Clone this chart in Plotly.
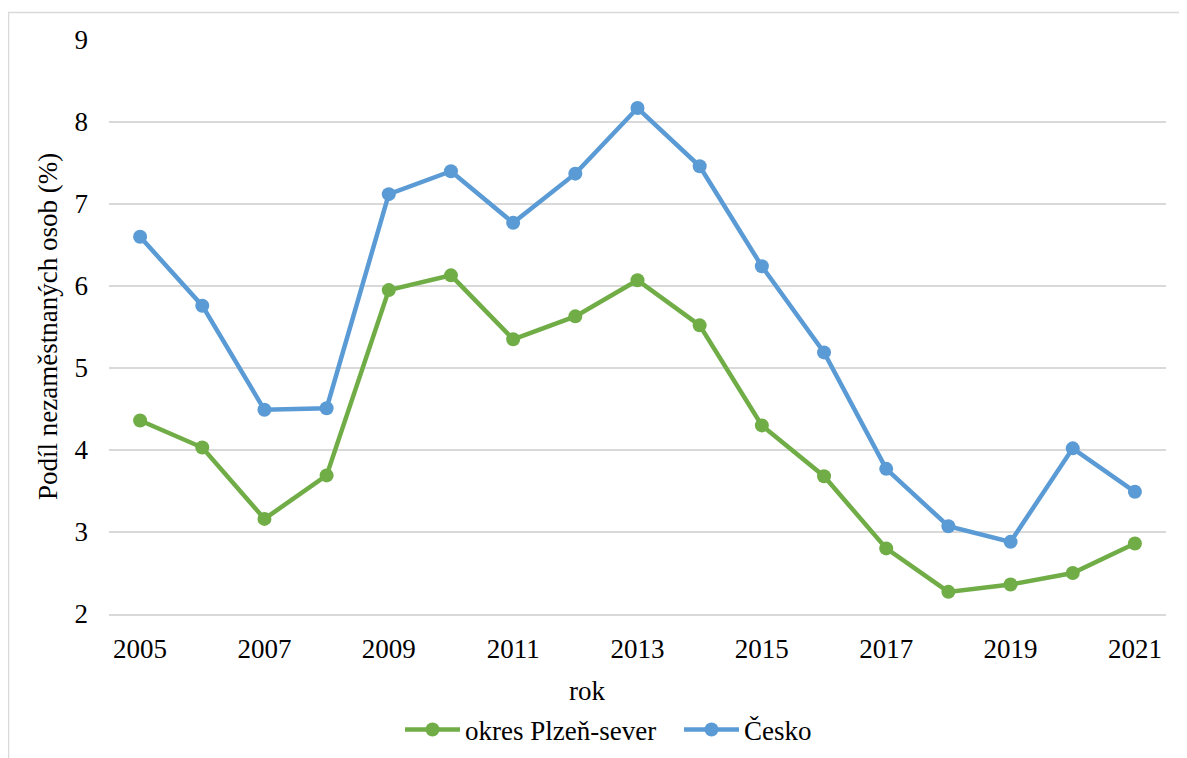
import plotly.graph_objects as go

years = list(range(2005, 2022))
plzen_sever = [4.36, 4.03, 3.16, 3.69, 5.95, 6.13, 5.35, 5.63, 6.07, 5.52, 4.30, 3.68, 2.80, 2.27, 2.36, 2.50, 2.86]
cesko = [6.60, 5.76, 4.49, 4.51, 7.12, 7.40, 6.77, 7.37, 8.17, 7.46, 6.24, 5.19, 3.77, 3.07, 2.88, 4.02, 3.49]
series_names = ["okres Plzeň-sever", "Česko"]
x_ticks = list(range(2005, 2022, 2))
y_ticks = list(range(2, 10))

FONT = "Liberation Serif"
FS = 27
OFF = 8  # page body margin
W, H = 1187 - OFF, 758 - OFF
# target screen pixels of plot area: left 109, right 1166, top 40, bottom 614
L, R, T, B = 109 - OFF, W - (1166 - OFF), 40 - OFF, H - (614 - OFF)
pw, ph = W - L - R, H - T - B

def px(x):  # screen x -> paper
    return (x - OFF - L) / pw

def py(y):  # screen y -> paper
    return (H - B - (y - OFF)) / ph

tf = dict(family=FONT, size=FS, color="black")

fig = go.Figure()
fig.add_trace(go.Scatter(x=years, y=plzen_sever, name=series_names[0], mode="lines+markers",
                         line=dict(color="#70AD47", width=4.5), marker=dict(size=14, color="#70AD47")))
fig.add_trace(go.Scatter(x=years, y=cesko, name=series_names[1], mode="lines+markers",
                         line=dict(color="#5B9BD5", width=4.5), marker=dict(size=14, color="#5B9BD5")))

fig.update_layout(
    width=W, height=H,
    margin=dict(l=L, r=R, t=T, b=B, autoexpand=False),
    paper_bgcolor="white", plot_bgcolor="white",
    font=tf,
    showlegend=True,
    legend=dict(orientation="h", x=px(400), xanchor="left", y=py(730), yanchor="middle",
                font=tf, itemwidth=55, entrywidth=209, bgcolor="rgba(0,0,0,0)"),
    xaxis=dict(range=[2004.5, 2021.5], tickmode="array", tickvals=x_ticks,
               ticktext=[str(v) for v in x_ticks], showgrid=False, zeroline=False,
               showline=True, linecolor="#d9d9d9", linewidth=1.5, tickfont=tf,
               ticks="", ticklabelstandoff=10),
    yaxis=dict(range=[2, 9], tickmode="array", tickvals=y_ticks,
               ticktext=[str(v) for v in y_ticks], showgrid=True, gridcolor="#d9d9d9",
               gridwidth=1.5, zeroline=False, showline=False, tickfont=tf,
               ticks="", ticklabelstandoff=20),
    annotations=[
        dict(text="rok", x=px(587), y=py(691), xref="paper", yref="paper",
             showarrow=False, xanchor="center", yanchor="middle", font=tf),
        dict(text="Podíl nezaměstnaných osob (%)", x=px(48), y=py(327), xref="paper", yref="paper",
             showarrow=False, xanchor="center", yanchor="middle", textangle=-90, font=tf),
    ],
    shapes=[
        dict(type="rect", xref="paper", yref="paper", x0=px(8.5), x1=px(1220), y0=py(790), y1=py(12.5),
             line=dict(color="#d9d9d9", width=1.5), fillcolor="rgba(0,0,0,0)", layer="below"),
    ],
)

fig.write_html("out.html")
